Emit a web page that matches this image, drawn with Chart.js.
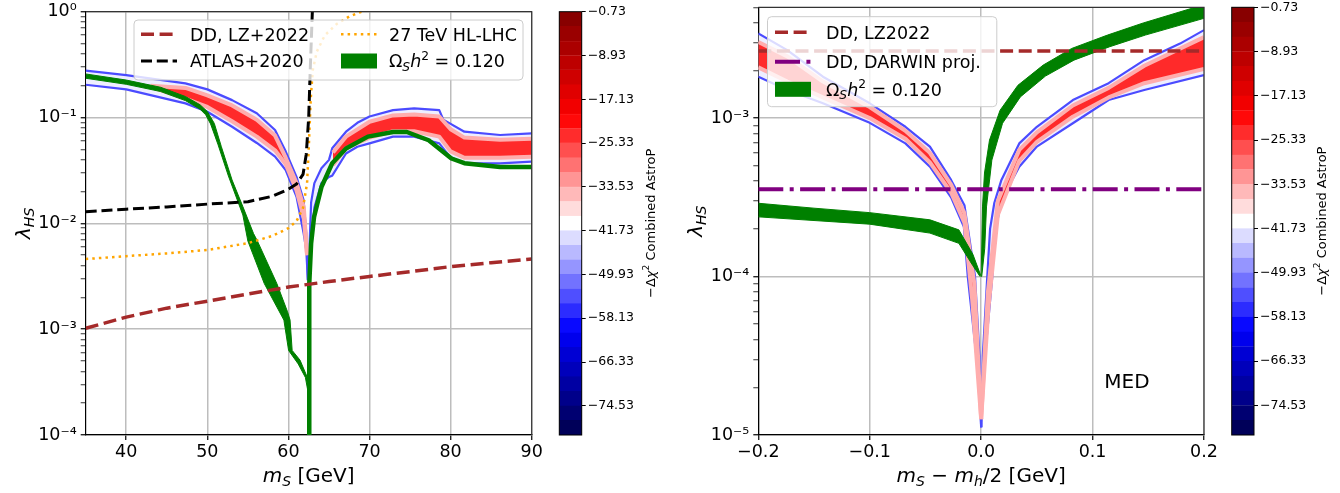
<!DOCTYPE html>
<html lang="en">
<head>
<meta charset="UTF-8">
<title>lambda_HS vs m_S</title>
<script src="https://cdn.jsdelivr.net/npm/chart.js"></script>
<style>
  body { margin: 0; background: #fff; width: 1340px; height: 493px; position: relative; overflow: hidden; }
  canvas { position: absolute; top: 0; }
</style>
</head>
<body>
<canvas id="leftChart" width="545" height="493" style="left:0px"></canvas>
<canvas id="leftBar" width="110" height="493" style="left:550px"></canvas>
<canvas id="rightChart" width="560" height="493" style="left:660px"></canvas>
<canvas id="rightBar" width="120" height="493" style="left:1220px"></canvas>
<script>
// ---------- left panel: m_S [GeV] vs lambda_HS ----------
const leftXTicks = [40, 50, 60, 70, 80, 90];
const leftXLabels = ['40', '50', '60', '70', '80', '90'];
const leftYDecades = [1e-4, 1e-3, 1e-2, 1e-1, 1];
const leftYLabels = ['10⁻⁴', '10⁻³', '10⁻²', '10⁻¹', '10⁰'];

const lzLeft = [[35,1.02e-3],[40,1.3e-3],[45,1.58e-3],[50,1.84e-3],[55,2.15e-3],[60,2.5e-3],[65,2.82e-3],[70,3.15e-3],[75,3.5e-3],[80,3.9e-3],[85,4.25e-3],[90,4.6e-3]];
const atlasLeft = [[35,1.29e-2],[40,1.36e-2],[45,1.43e-2],[50,1.52e-2],[55,1.6e-2],[58,1.8e-2],[60,2.1e-2],[61,2.35e-2],[61.8,2.9e-2],[62.2,4.5e-2],[62.5,0.1],[62.7,0.3],[62.95,1.0]];
const hlLhcLeft = [[35,4.6e-3],[40,4.9e-3],[45,5.2e-3],[50,5.6e-3],[55,6.5e-3],[58,7.6e-3],[60,9e-3],[61,1.05e-2],[61.8,1.4e-2],[62.3,2.4e-2],[62.5,5e-2],[62.75,0.15],[63,0.28],[63.5,0.42],[64.5,0.6],[66,0.77],[67.5,0.9],[69,1.0]];

const relicUpLeft = [[35,0.258],[40,0.226],[44.25,0.193],[47.3,0.158],[49.1,0.132],[50,0.114],[50.86,0.088],[51.73,0.053],[53.05,0.0257],[54.38,0.0144],[55.7,0.008],[56.14,0.0069],[58.57,0.0027],[59.89,0.00146],[60.2,0.00122],[60.46,0.00063],[61.43,0.00051],[62.3,0.000355],[62.57,0.00028]];
const relicLoLeft = [[35,0.235],[40,0.206],[44.25,0.176],[47.3,0.1445],[49.1,0.12],[49.8,0.106],[50.4,0.087],[51.3,0.056],[52.6,0.028],[54.38,0.012],[55,0.0068],[57.02,0.0027],[59.44,0.00122],[60.02,0.00063],[61.2,0.00047],[62.09,0.00035],[62.4,0.00026],[62.57,0.00018],[62.58,0.0001]];
const relicLineLeft = [[62.57,1e-4],[62.57,2.7e-3],[62.8,6.5e-3],[63.16,1.15e-2],[64.07,2.2e-2],[65.4,3.7e-2],[67.1,5.1e-2],[69.8,6.6e-2],[72.9,7.3e-2],[74.6,7.3e-2],[77.3,6.1e-2],[80.1,4.1e-2],[81.7,3.7e-2],[86.1,3.4e-2],[90,3.4e-2]];

const chiOuterUpLeftA = [[35,0.277],[40,0.252],[47.3,0.21],[50,0.1845],[53.05,0.146],[56.1,0.1096],[58.35,0.0762],[59.66,0.0479],[61,0.0275],[61.87,0.0166],[62.2,0.0081],[62.4,0.0029]];
const chiOuterLoLeftA = [[35,0.204],[40,0.1845],[47.3,0.136],[50,0.1135],[53.05,0.0818],[56.1,0.0575],[58.35,0.0427],[59.66,0.0319],[61,0.0178],[61.87,0.0081],[62.2,0.0056],[62.4,0.0029]];
const chiCoreUpLeftA = [[43,0.2],[47.3,0.1905],[50,0.162],[53.05,0.13],[56.1,0.0955],[58.35,0.0676],[59.66,0.0417],[61,0.024],[61.9,0.0141],[62.3,0.005]];
const chiCoreLoLeftA = [[43,0.195],[47.3,0.151],[50,0.126],[53.05,0.0923],[56.1,0.066],[58.35,0.049],[59.66,0.0363],[61,0.0204],[61.9,0.0112],[62.3,0.005]];
const chiOuterUpLeftB = [[62.45,0.0029],[62.8,0.0158],[63.2,0.024],[64.07,0.0331],[65,0.0398],[65.4,0.0513],[67.1,0.0735],[68.5,0.0891],[70,0.1023],[72.9,0.1175],[75.5,0.122],[78.6,0.1175],[79.1,0.0955],[79.9,0.088],[81.7,0.0735],[86.1,0.0684],[90,0.0708]];
const chiOuterLoLeftB = [[62.45,0.0029],[62.8,0.0063],[63.2,0.0141],[64.07,0.024],[65,0.0275],[65.4,0.0282],[67.1,0.0457],[68.5,0.053],[70,0.057],[72.9,0.066],[75.5,0.066],[78.6,0.057],[79.9,0.0427],[81.7,0.0369],[86.1,0.0369],[90,0.0383]];
const chiCoreUpLeftB = [[65.5,0.0468],[67.1,0.066],[70,0.0912],[72.9,0.1047],[75.5,0.107],[78.6,0.1023],[80,0.0776],[81.7,0.0646],[86.1,0.0617],[90,0.063]];
const chiCoreLoLeftB = [[65.5,0.0355],[67.1,0.0513],[70,0.0646],[72.9,0.0741],[75.5,0.0741],[78.6,0.066],[80,0.0479],[81.7,0.0417],[86.1,0.0417],[90,0.0427]];

// ---------- right panel: m_S - m_h/2 [GeV] vs lambda_HS ----------
const rightXTicks = [-0.2, -0.1, 0, 0.1, 0.2];
const rightXLabels = ['−0.2', '−0.1', '0.0', '0.1', '0.2'];
const rightYDecades = [1e-5, 1e-4, 1e-3];
const rightYLabels = ['10⁻⁵', '10⁻⁴', '10⁻³'];

const lzRight = [[-0.2,2.65e-3],[0.2,2.65e-3]];
const darwinRight = [[-0.2,3.55e-4],[0.2,3.55e-4]];

const relicUpRightA = [[-0.2,2.9e-4],[-0.15,2.7e-4],[-0.1,2.53e-4],[-0.046,2.28e-4],[-0.02,1.97e-4],[-0.0074,1.38e-4],[0,1.0e-4]];
const relicLoRightA = [[-0.2,2.38e-4],[-0.1,2.14e-4],[-0.046,1.88e-4],[-0.02,1.62e-4],[-0.0074,1.17e-4],[-0.001,1.0e-4]];
const relicUpRightB = [[0,1.0e-4],[0.0012,2.75e-4],[0.003,4.5e-4],[0.0075,7.26e-4],[0.017,1.12e-3],[0.033,1.61e-3],[0.0557,2.16e-3],[0.0813,2.75e-3],[0.1134,3.34e-3],[0.1454,3.98e-3],[0.2,5.2e-3]];
const relicLoRightB = [[0.0005,1.0e-4],[0.0032,1.5e-4],[0.0048,2.75e-4],[0.0096,5.43e-4],[0.0192,9.27e-4],[0.0352,1.36e-3],[0.0577,1.84e-3],[0.0833,2.32e-3],[0.1154,2.82e-3],[0.1474,3.34e-3],[0.2,4.26e-3]];

const chiOuterUpRightA = [[-0.2,3.42e-3],[-0.174,2.685e-3],[-0.142,1.824e-3],[-0.1,1.239e-3],[-0.068,8.81e-4],[-0.046,6.61e-4],[-0.027,4.07e-4],[-0.015,2.82e-4],[-0.0055,1.0e-4],[-0.0015,3.16e-5],[0,1.12e-5]];
const chiOuterLoRightA = [[-0.2,1.824e-3],[-0.174,1.503e-3],[-0.142,1.239e-3],[-0.1,9.33e-4],[-0.068,6.92e-4],[-0.046,4.93e-4],[-0.027,3.16e-4],[-0.0155,2.06e-4],[-0.012,1.0e-4],[-0.0043,3.16e-5],[-0.001,1.58e-5],[0,1.12e-5]];
const chiCoreUpRightA = [[-0.2,3.02e-3],[-0.174,2.45e-3],[-0.142,1.7e-3],[-0.1,1.175e-3],[-0.068,8.32e-4],[-0.046,6.03e-4],[-0.027,3.8e-4],[-0.015,2.51e-4],[-0.006,8.9e-5],[0,1.26e-5]];
const chiCoreLoRightA = [[-0.2,2.09e-3],[-0.174,1.7e-3],[-0.142,1.35e-3],[-0.1,1.0e-3],[-0.068,7.41e-4],[-0.046,5.25e-4],[-0.027,3.39e-4],[-0.015,2.19e-4],[-0.008,7.1e-5],[0,1.26e-5]];
const chiOuterUpRightB = [[0,1.12e-5],[0.0015,3.16e-5],[0.0055,1.0e-4],[0.008,2.0e-4],[0.0118,2.91e-4],[0.0182,4.07e-4],[0.0342,6.92e-4],[0.05,8.81e-4],[0.0823,1.3e-3],[0.1144,1.66e-3],[0.1464,2.32e-3],[0.1785,2.95e-3],[0.2,3.59e-3]];
const chiOuterLoRightB = [[0,1.12e-5],[0.001,1.58e-5],[0.0035,3.16e-5],[0.01,1.0e-4],[0.0118,1.78e-4],[0.0182,3.04e-4],[0.0342,4.93e-4],[0.05,6.61e-4],[0.0823,9.27e-4],[0.1144,1.3e-3],[0.1464,1.503e-3],[0.2,1.866e-3]];
const chiCoreUpRightB = [[0,1.26e-5],[0.006,7.9e-5],[0.015,3.0e-4],[0.0342,6.3e-4],[0.05,8.13e-4],[0.0823,1.2e-3],[0.1144,1.55e-3],[0.1464,2.14e-3],[0.2,3.24e-3]];
const chiCoreLoRightB = [[0,1.26e-5],[0.0065,6.3e-5],[0.015,2.45e-4],[0.0342,5.37e-4],[0.05,7.08e-4],[0.0823,1.02e-3],[0.1144,1.35e-3],[0.1464,1.66e-3],[0.2,2.04e-3]];

// ---------- colour bar ----------
const cbTicks = [-0.73, -8.93, -17.13, -25.33, -33.53, -41.73, -49.93, -58.13, -66.33, -74.53];
const cbMin = -80.0;
const cbMax = -0.73;
const cbBands = 29;

// ---------- styles ----------
const FONT = '"DejaVu Sans", sans-serif';
const GRID = '#bdbdbd';
const GREEN = '#008000';
const LZ = { color: '#a52a2a', width: 3.5, dash: [13, 5.6] };
const ATLAS = { color: '#000000', width: 3, dash: [11, 4.8] };
const HLLHC = { color: '#ffa500', width: 2.5, dash: [2.5, 4.1] };
const DARWIN = { color: '#800080', width: 4, dash: [25, 6.4, 4, 6.4] };
const OUTER_FILL = '#eeeeff', OUTER_EDGE = '#4b4bff';
const CORE_FILL = '#ff2a2a', CORE_EDGE = '#ffadad';

Chart.defaults.font.family = FONT;
Chart.defaults.color = '#000';

function pts(arr) { return arr.map(p => ({ x: p[0], y: p[1] })); }

function line(arr, color, width, dash, order) {
  return {
    data: pts(arr), borderColor: color, borderWidth: width, borderDash: dash || [],
    borderCapStyle: 'butt', borderJoinStyle: 'round',
    fill: false, pointRadius: 0, pointHitRadius: 0, tension: 0, order: order, clip: 0
  };
}

function band(up, lo, fillColor, edgeColor, edgeWidth, order) {
  const a = line(up, edgeColor, edgeWidth, null, order + 0.5);
  a.fill = '+1';
  a.backgroundColor = fillColor;
  const b = line(lo, edgeColor, edgeWidth, null, order);
  return [a, b];
}

function styled(arr, s, order) { return line(arr, s.color, s.width, s.dash, order); }

function isDecade(v) { const l = Math.log10(v); return Math.abs(l - Math.round(l)) < 1e-9; }

function yLogAxis(min, max, decades, labels, width) {
  const vals = [];
  decades.forEach(d => {
    for (let k = 1; k < 10; k++) {
      const v = d * k;
      if (v >= min * 0.9999 && v <= max * 1.0001) vals.push(v);
    }
  });
  return {
    type: 'logarithmic', min: min, max: max,
    afterBuildTicks: s => { s.ticks = vals.map(v => ({ value: v, major: isDecade(v) })); },
    afterFit: s => { s.width = width; s.paddingTop = 0; s.paddingBottom = 0; },
    ticks: {
      autoSkip: false, font: { size: 17.5 }, padding: 4,
      callback: v => { const i = decades.findIndex(d => Math.abs(v / d - 1) < 1e-6); return i >= 0 ? labels[i] : ''; }
    },
    grid: {
      color: c => (c.tick && c.tick.major) ? GRID : 'rgba(0,0,0,0)',
      lineWidth: 1.5, tickColor: '#000', tickLength: 5,
      tickWidth: c => (c.tick && c.tick.major) ? 1.2 : 0.8
    },
    border: { color: '#000', width: 1.2 }
  };
}

function xAxis(min, max, ticks, labels) {
  return {
    type: 'linear', min: min, max: max,
    afterBuildTicks: s => { s.ticks = ticks.map(v => ({ value: v })); },
    afterFit: s => { s.height = 58; s.paddingLeft = 0; s.paddingRight = 0; },
    ticks: {
      autoSkip: false, maxRotation: 0, font: { size: 17.5 }, padding: 2,
      callback: v => labels[ticks.findIndex(t => Math.abs(t - v) < 1e-9)]
    },
    grid: { color: GRID, lineWidth: 1.5, tickColor: '#000', tickLength: 5, tickWidth: 1.2 },
    border: { color: '#000', width: 1.2 }
  };
}

// text with italic / sub / superscript pieces
function partFont(p, size) {
  const s = (p.sub || p.sup) ? size * 0.7 : size;
  return (p.it ? 'italic ' : '') + s + 'px ' + FONT;
}
function richText(ctx, parts, x, y, size, align, angle) {
  ctx.save();
  ctx.translate(x, y);
  if (angle) ctx.rotate(angle);
  let w = 0;
  parts.forEach(p => { ctx.font = partFont(p, size); w += ctx.measureText(p.t).width; });
  let cx = align === 'center' ? -w / 2 : 0;
  ctx.textAlign = 'left';
  ctx.textBaseline = 'alphabetic';
  ctx.fillStyle = '#000';
  parts.forEach(p => {
    ctx.font = partFont(p, size);
    const dy = p.sub ? 0.2 * size : (p.sup ? -0.42 * size : 0);
    ctx.fillText(p.t, cx, dy);
    cx += ctx.measureText(p.t).width;
  });
  ctx.restore();
}

const relicLabel = [{ t: 'Ω' }, { t: 'S', it: true, sub: true }, { t: 'h', it: true }, { t: '2', sup: true }, { t: ' = 0.120' }];
const lambdaLabel = [{ t: 'λ', it: true }, { t: 'HS', it: true, sub: true }];

function drawLegend(ctx, lg) {
  ctx.save();
  ctx.beginPath();
  ctx.roundRect(lg.x, lg.y, lg.w, lg.h, 4);
  ctx.fillStyle = 'rgba(255,255,255,0.8)';
  ctx.fill();
  ctx.strokeStyle = '#cccccc';
  ctx.lineWidth = 1;
  ctx.stroke();
  lg.items.forEach(it => {
    if (it.style) {
      ctx.beginPath();
      ctx.setLineDash(it.style.dash);
      ctx.lineWidth = it.style.width;
      ctx.strokeStyle = it.style.color;
      ctx.lineCap = 'butt';
      ctx.moveTo(it.x, it.y);
      ctx.lineTo(it.x + 36, it.y);
      ctx.stroke();
      ctx.setLineDash([]);
    } else {
      ctx.fillStyle = GREEN;
      ctx.fillRect(it.x, it.y - 7.5, 36, 15);
    }
    richText(ctx, it.label, it.tx, it.y + 6.3, 17.5, 'left');
  });
  ctx.restore();
}

function drawSpines(ctx, a) {
  ctx.save();
  ctx.strokeStyle = '#333';
  ctx.lineWidth = 1.2;
  ctx.beginPath();
  ctx.moveTo(a.left, a.top); ctx.lineTo(a.right, a.top); ctx.lineTo(a.right, a.bottom);
  ctx.stroke();
  ctx.restore();
}

// ---------- left chart ----------
const leftSets = [].concat(
  styled(atlasLeft, ATLAS, 1),
  styled(hlLhcLeft, HLLHC, 2),
  styled(lzLeft, LZ, 3),
  [line(relicLineLeft, GREEN, 4.5, null, 8)],
  band(relicUpLeft, relicLoLeft, GREEN, GREEN, 1, 9),
  band(chiCoreUpLeftA, chiCoreLoLeftA, CORE_FILL, CORE_EDGE, 4, 15),
  band(chiCoreUpLeftB, chiCoreLoLeftB, CORE_FILL, CORE_EDGE, 4, 16),
  band(chiOuterUpLeftA, chiOuterLoLeftA, OUTER_FILL, OUTER_EDGE, 2.2, 20),
  band(chiOuterUpLeftB, chiOuterLoLeftB, OUTER_FILL, OUTER_EDGE, 2.2, 21)
);

new Chart(document.getElementById('leftChart'), {
  type: 'line',
  data: { datasets: leftSets },
  options: {
    responsive: false, animation: false, events: [],
    layout: { padding: { left: 0, top: 11.7, right: 13.3, bottom: 0 } },
    plugins: { legend: { display: false }, tooltip: { enabled: false } },
    scales: {
      x: xAxis(35, 90, leftXTicks, leftXLabels),
      y: yLogAxis(1e-4, 1, leftYDecades, leftYLabels, 85.7)
    }
  },
  plugins: [{
    id: 'leftDecor',
    afterDraw(chart) {
      const ctx = chart.ctx, a = chart.chartArea;
      drawSpines(ctx, a);
      drawLegend(ctx, {
        x: 134, y: 20, w: 389, h: 60,
        items: [
          { style: LZ, x: 141, y: 34.3, tx: 190, label: [{ t: 'DD, LZ+2022' }] },
          { style: ATLAS, x: 141, y: 61, tx: 190, label: [{ t: 'ATLAS+2020' }] },
          { style: HLLHC, x: 341, y: 34.3, tx: 389, label: [{ t: '27 TeV HL-LHC' }] },
          { x: 341, y: 61, tx: 389, label: relicLabel }
        ]
      });
      richText(ctx, [{ t: 'm', it: true }, { t: 'S', it: true, sub: true }, { t: ' [GeV]' }], (a.left + a.right) / 2, 482, 20, 'center');
      richText(ctx, lambdaLabel, 29.5, (a.top + a.bottom) / 2, 20, 'center', -Math.PI / 2);
    }
  }]
});

// ---------- right chart ----------
const rightSets = [].concat(
  styled(darwinRight, DARWIN, 1),
  styled(lzRight, LZ, 2),
  band(relicUpRightB, relicLoRightB, GREEN, GREEN, 1, 8),
  band(relicUpRightA, relicLoRightA, GREEN, GREEN, 1, 9),
  band(chiCoreUpRightA, chiCoreLoRightA, CORE_FILL, CORE_EDGE, 4, 15),
  band(chiCoreUpRightB, chiCoreLoRightB, CORE_FILL, CORE_EDGE, 4, 16),
  band(chiOuterUpRightA, chiOuterLoRightA, OUTER_FILL, OUTER_EDGE, 2.2, 20),
  band(chiOuterUpRightB, chiOuterLoRightB, OUTER_FILL, OUTER_EDGE, 2.2, 21)
);

new Chart(document.getElementById('rightChart'), {
  type: 'line',
  data: { datasets: rightSets },
  options: {
    responsive: false, animation: false, events: [],
    layout: { padding: { left: 0, top: 7.3, right: 16, bottom: 0 } },
    plugins: { legend: { display: false }, tooltip: { enabled: false } },
    scales: {
      x: xAxis(-0.2, 0.2, rightXTicks, rightXLabels),
      y: yLogAxis(1e-5, 5e-3, rightYDecades, rightYLabels, 98.3)
    }
  },
  plugins: [{
    id: 'rightDecor',
    afterDraw(chart) {
      const ctx = chart.ctx, a = chart.chartArea;
      drawSpines(ctx, a);
      drawLegend(ctx, {
        x: 107.5, y: 16.7, w: 229.3, h: 90,
        items: [
          { style: LZ, x: 115, y: 32.3, tx: 166, label: [{ t: 'DD, LZ2022' }] },
          { style: DARWIN, x: 115, y: 61.7, tx: 166, label: [{ t: 'DD, DARWIN proj.' }] },
          { x: 115, y: 89.3, tx: 166, label: relicLabel }
        ]
      });
      ctx.save();
      ctx.font = '20px ' + FONT;
      ctx.fillStyle = '#000';
      ctx.textAlign = 'center';
      ctx.textBaseline = 'alphabetic';
      ctx.fillText('MED', 467, 387.5);
      ctx.restore();
      richText(ctx, [{ t: 'm', it: true }, { t: 'S', it: true, sub: true }, { t: ' − ' }, { t: 'm', it: true }, { t: 'h', it: true, sub: true }, { t: '/2 [GeV]' }], (a.left + a.right) / 2, 482, 20, 'center');
      richText(ctx, lambdaLabel, 41.5, (a.top + a.bottom) / 2, 20, 'center', -Math.PI / 2);
    }
  }]
});

// ---------- colour bars ----------
function seismic(t) {
  const stops = [[0, 0, 0, 0.3], [0.25, 0, 0, 1], [0.5, 1, 1, 1], [0.75, 1, 0, 0], [1, 0.5, 0, 0]];
  for (let i = 1; i < stops.length; i++) {
    if (t <= stops[i][0]) {
      const a = stops[i - 1], b = stops[i], f = (t - a[0]) / (b[0] - a[0]);
      const c = [1, 2, 3].map(k => Math.round(255 * (a[k] + f * (b[k] - a[k]))));
      return 'rgb(' + c.join(',') + ')';
    }
  }
  return 'rgb(128,0,0)';
}

function colorBar(id, padLeft, padTop, axisWidth, labelX) {
  const step = (cbMax - cbMin) / cbBands;
  const sets = [];
  for (let i = 0; i < cbBands; i++) {
    const col = seismic((i + 0.5) / cbBands);
    sets.push({
      data: [[cbMin + i * step, cbMin + (i + 1) * step]],
      backgroundColor: col, borderColor: col, borderWidth: 0.6, borderSkipped: false,
      grouped: false, barPercentage: 1, categoryPercentage: 1
    });
  }
  new Chart(document.getElementById(id), {
    type: 'bar',
    data: { labels: [''], datasets: sets },
    options: {
      responsive: false, animation: false, events: [],
      layout: { padding: { left: padLeft, top: padTop, right: 0, bottom: 58 } },
      plugins: { legend: { display: false }, tooltip: { enabled: false } },
      scales: {
        x: { display: false },
        y: {
          position: 'right', min: cbMin, max: cbMax,
          afterBuildTicks: s => { s.ticks = cbTicks.map(v => ({ value: v })); },
          afterFit: s => { s.width = axisWidth; s.paddingTop = 0; s.paddingBottom = 0; },
          ticks: { autoSkip: false, font: { size: 12.5 }, padding: 2, callback: v => '−' + Math.abs(v).toFixed(2) },
          grid: { drawOnChartArea: false, tickLength: 4, tickColor: '#000', tickWidth: 1 },
          border: { display: false }
        }
      }
    },
    plugins: [{
      id: 'cbDecor',
      afterDraw(chart) {
        const ctx = chart.ctx, a = chart.chartArea;
        ctx.save();
        ctx.strokeStyle = '#000';
        ctx.lineWidth = 1;
        ctx.strokeRect(a.left, a.top, a.right - a.left, a.bottom - a.top);
        ctx.restore();
        richText(ctx, [{ t: '−Δ' }, { t: 'χ', it: true }, { t: '2', sup: true }, { t: ' Combined AstroP' }],
          labelX, (a.top + a.bottom) / 2, 13, 'center', -Math.PI / 2);
      }
    }]
  });
}

colorBar('leftBar', 9.3, 11.7, 78.3, 104.5);
colorBar('rightBar', 11.7, 7.3, 86, 105.5);
</script>
</body>
</html>
